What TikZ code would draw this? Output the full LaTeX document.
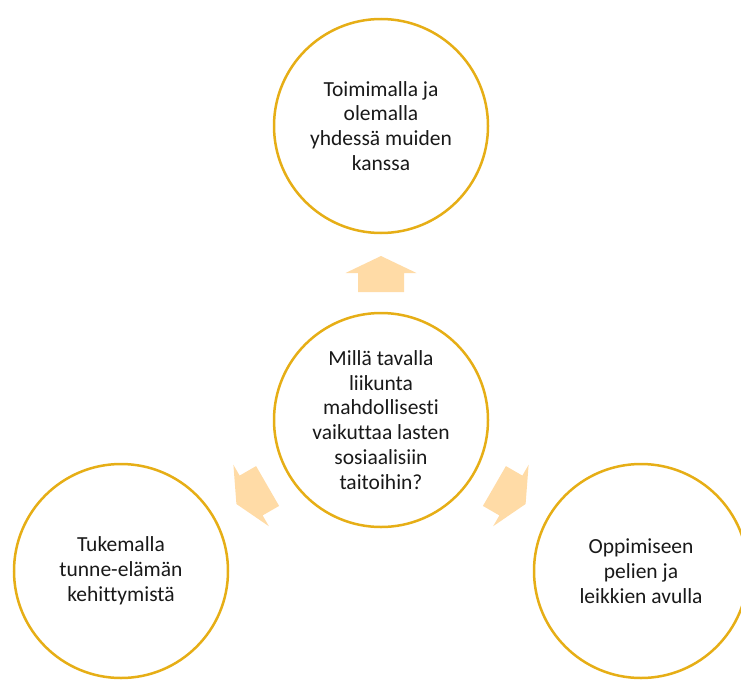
\documentclass[tikz,border=0pt]{standalone}
\usepackage{fontspec}
\setmainfont{Carlito}[Ligatures={NoCommon,NoContextual}]
\definecolor{ringgold}{RGB}{230,174,22}
\definecolor{arrowfill}{RGB}{255,219,166}
\definecolor{txt}{RGB}{25,25,25}
\tikzset{
  ring/.style={circle, draw=ringgold, line width=2.5pt, fill=white, minimum size=214pt, inner sep=0pt,
    align=center, text=txt, font=\fontsize{21.5}{24.8}\selectfont},
  blockarrow/.style={fill=arrowfill, draw=none}
}
\begin{document}
\begin{tikzpicture}[x=1pt,y=-1pt]
\useasboundingbox (0,0) rectangle (741,680);
\node[ring] (top) at (381,126) {Toimimalla ja\\olemalla\\yhdessä muiden\\kanssa};
\node[ring] (mid) at (381,420) {Millä tavalla\\liikunta\\mahdollisesti\\vaikuttaa lasten\\sosiaalisiin\\taitoihin?};
\node[ring] (bl) at (121,571) {Tukemalla\\tunne-elämän\\kehittymistä};
\node[ring] (br) at (641,571) {Oppimiseen\\pelien ja\\leikkien avulla};
% block arrows (pointing up in local frame, centred)
\foreach \px/\py/\r in {381/274/0, 252/495/120, 510/495/-120}{
  \begin{scope}[shift={(\px,\py)}, rotate=\r]
    \fill[blockarrow] (0,-18) -- (35.5,-1) -- (23,-1) -- (23,18) -- (-23,18) -- (-23,-1) -- (-35.5,-1) -- cycle;
  \end{scope}
}
\end{tikzpicture}
\end{document}
